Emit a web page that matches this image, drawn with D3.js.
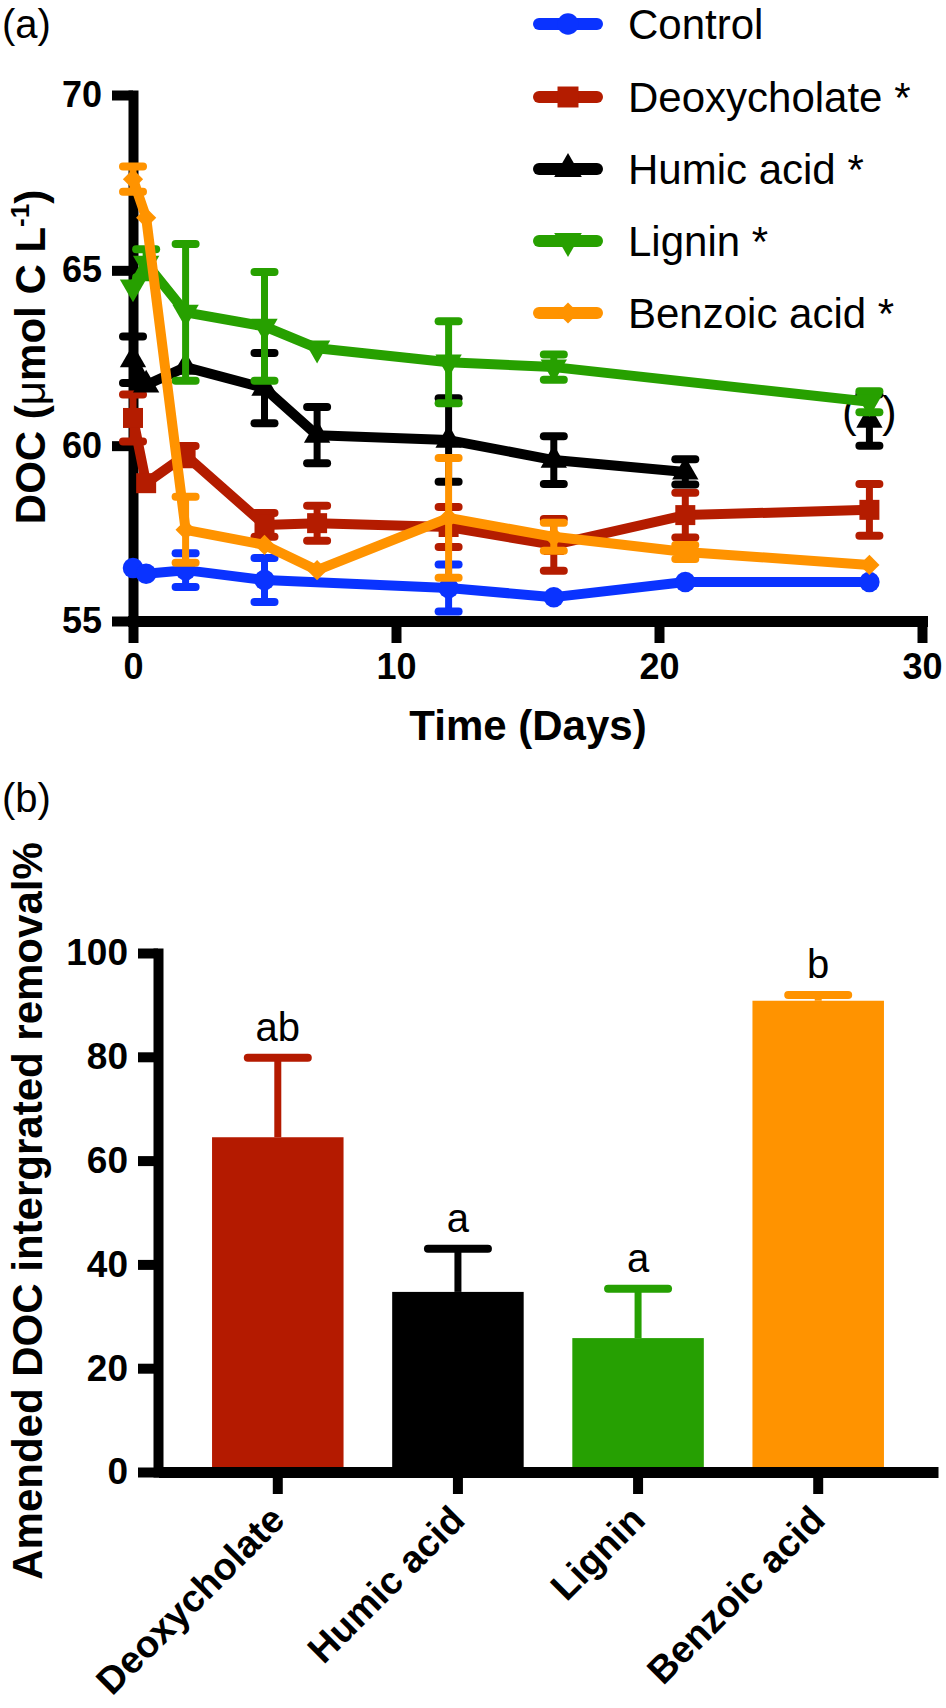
<!DOCTYPE html>
<html><head><meta charset="utf-8">
<script src="https://cdn.jsdelivr.net/npm/d3@7"></script>
<style>
body{margin:0;background:#fff}
text{font-family:"Liberation Sans",Arial,Helvetica,sans-serif}
</style>
</head><body>
<svg id="c" width="946" height="1708"></svg>
<script>
// ---------- Panel (a) data ----------
const days = [0, 0.5, 2, 5, 7, 12, 16, 21, 28];
const seriesNames = ["Control", "Deoxycholate", "Humic acid", "Lignin", "Benzoic acid"];
const legendLabels = ["Control", "Deoxycholate *", "Humic acid *", "Lignin *", "Benzoic acid *"];
const seriesColors = ["#0A33FF", "#B41C00", "#000000", "#27A000", "#FF9300"];
const seriesSymbols = ["circle", "square", "triangle", "triangleDown", "diamond"];

const controlMean = [56.51, 56.35, 56.45, 56.17, null, 55.94, 55.68, 56.11, 56.11];
const controlSE   = [0, 0, 0.48, 0.63, null, 0.67, 0, 0, 0];
const deoxyMean   = [60.79, 58.93, 59.73, 57.74, 57.79, 57.68, 57.17, 58.02, 58.17];
const deoxySE     = [0.67, 0, 0.26, 0.34, 0.5, 0.57, 0.74, 0.64, 0.74];
const humicMean   = [62.45, 61.73, 62.24, 61.64, 60.3, 60.16, 59.59, 59.25, 60.73];
const humicSE     = [0.66, 0, 0, 1.0, 0.8, 1.19, 0.68, 0.36, 0.73];
const humicConnected = [true, true, true, true, true, true, true, true, false];
const ligninMean  = [64.52, 65.2, 63.8, 63.4, 62.78, 62.38, 62.24, null, 61.25];
const ligninSE    = [0, 0.4, 1.95, 1.55, 0, 1.17, 0.36, null, 0.3];
const benzoicMean = [67.6, 66.5, 57.6, 57.17, 56.45, 57.94, 57.4, 56.97, 56.6];
const benzoicSE   = [0.36, 0, 0.94, 0, 0, 1.71, 0.4, 0.2, 0];

const xTicksA = [0, 10, 20, 30];
const yTicksA = [55, 60, 65, 70];

// ---------- Panel (b) data ----------
const categories = ["Deoxycholate", "Humic acid", "Lignin", "Benzoic acid"];
const removalMean = [64.5, 34.7, 25.8, 90.8];
const removalSE   = [15.3, 8.3, 9.5, 1.1];
const sigLetters  = ["ab", "a", "a", "b"];
const barColors   = ["#B41A00", "#000000", "#26A002", "#FF9300"];
const yTicksB = [0, 20, 40, 60, 80, 100];

// ---------- build ----------
const svg = d3.select("#c");
const FONT = '"Liberation Sans",Arial,Helvetica,sans-serif';

const means = [controlMean, deoxyMean, humicMean, ligninMean, benzoicMean];
const ses = [controlSE, deoxySE, humicSE, ligninSE, benzoicSE];

const xA = d3.scaleLinear().domain([0, 30]).range([133, 922]);
const yA = d3.scaleLinear().domain([55, 70]).range([621, 95]);

function symbolPath(kind, size) {
  const t = {circle: d3.symbolCircle, square: d3.symbolSquare, triangle: d3.symbolTriangle,
             triangleDown: d3.symbolTriangle, diamond: d3.symbolDiamond2}[kind];
  return d3.symbol().type(t).size(size)();
}
const symSize = {circle: 330, square: 400, triangle: 300, triangleDown: 300, diamond: 260};

// Panel label
svg.append("text").attr("x", 2).attr("y", 38).attr("font-size", 40).text("(a)");

// axes panel a
const gy = svg.append("g").attr("transform", `translate(${xA(0)},0)`)
  .call(d3.axisLeft(yA).tickValues(yTicksA).tickSize(21).tickSizeOuter(0).tickPadding(10));
gy.select(".domain").attr("stroke-width", 10).attr("stroke-linecap", "square");
gy.selectAll(".tick line").attr("stroke-width", 10);
gy.selectAll(".tick text").attr("font-size", 36).attr("font-weight", "bold").attr("font-family", FONT);

const gx = svg.append("g").attr("transform", `translate(0,${yA(55)})`)
  .call(d3.axisBottom(xA).tickValues(xTicksA).tickSize(22).tickSizeOuter(0).tickPadding(10));
gx.select(".domain").attr("stroke-width", 11).attr("stroke-linecap", "square");
gx.selectAll(".tick line").attr("stroke-width", 10);
gx.selectAll(".tick text").attr("font-size", 36).attr("font-weight", "bold").attr("font-family", FONT);

// axis titles panel a
svg.append("text").attr("transform", `translate(45,357) rotate(-90)`)
  .attr("text-anchor", "middle").attr("font-size", 42).attr("font-weight", "bold")
  .call(t => {
    t.append("tspan").text("DOC (");
    t.append("tspan").attr("font-weight", "normal").text("μ");
    t.append("tspan").text("mol C L");
    t.append("tspan").attr("font-size", 26).attr("dy", -16).text("-1");
    t.append("tspan").attr("dy", 16).text(")");
  });
svg.append("text").attr("x", 528).attr("y", 740).attr("text-anchor", "middle")
  .attr("font-size", 42).attr("font-weight", "bold").text("Time (Days)");

// series
const plot = svg.append("g");
const lineGen = d3.line().x(d => xA(d.day)).y(d => yA(d.v));
const seriesData = seriesNames.map((name, i) => ({
  name, color: seriesColors[i], sym: seriesSymbols[i],
  pts: days.map((day, j) => ({day, v: means[i][j], se: ses[i][j],
        connected: name === "Humic acid" ? humicConnected[j] : true}))
        .filter(p => p.v !== null)
}));

seriesData.forEach(s => {
  const g = plot.append("g");
  g.append("path").datum(s.pts.filter(p => p.connected))
    .attr("d", lineGen).attr("fill", "none").attr("stroke", s.color)
    .attr("stroke-width", 10).attr("stroke-linejoin", "round");
  const eb = s.pts.filter(p => p.se > 0);
  g.selectAll(".ev").data(eb).join("line")
    .attr("x1", d => xA(d.day)).attr("x2", d => xA(d.day))
    .attr("y1", d => yA(d.v - d.se)).attr("y2", d => yA(d.v + d.se))
    .attr("stroke", s.color).attr("stroke-width", 7);
  ["lo", "hi"].forEach(k => {
    g.selectAll(".ec" + k).data(eb).join("line")
      .attr("x1", d => xA(d.day) - 10).attr("x2", d => xA(d.day) + 10)
      .attr("y1", d => yA(k === "lo" ? d.v - d.se : d.v + d.se))
      .attr("y2", d => yA(k === "lo" ? d.v - d.se : d.v + d.se))
      .attr("stroke", s.color).attr("stroke-width", 8).attr("stroke-linecap", "round");
  });
  g.selectAll(".m").data(s.pts).join("path")
    .attr("d", symbolPath(s.sym, symSize[s.sym]))
    .attr("transform", d => `translate(${xA(d.day)},${yA(d.v)})` + (s.sym === "triangleDown" ? " rotate(180)" : ""))
    .attr("fill", s.color);
  s.pts.filter(p => !p.connected).forEach(p => {
    [["(", -20], [")", 20]].forEach(([ch, dx]) => {
      g.append("text").attr("x", xA(p.day) + dx).attr("y", yA(p.v) + 7)
        .attr("text-anchor", "middle").attr("font-size", 44).text(ch);
    });
  });
});

// legend
const legRows = [24, 97, 169, 241, 313];
const leg = svg.append("g");
legendLabels.forEach((lab, i) => {
  const y = legRows[i];
  leg.append("line").attr("x1", 539).attr("x2", 597).attr("y1", y).attr("y2", y)
    .attr("stroke", seriesColors[i]).attr("stroke-width", 12).attr("stroke-linecap", "round");
  leg.append("path").attr("d", symbolPath(seriesSymbols[i], symSize[seriesSymbols[i]] * 1.1))
    .attr("transform", `translate(568,${y})` + (seriesSymbols[i] === "triangleDown" ? " rotate(180)" : ""))
    .attr("fill", seriesColors[i]);
  leg.append("text").attr("x", 628).attr("y", y + 15).attr("font-size", 42).text(lab);
});

// ---------- Panel (b) ----------
svg.append("text").attr("x", 2).attr("y", 812).attr("font-size", 40).text("(b)");

const xB = d3.scaleBand().domain(categories).range([158, 938]).paddingInner(0.27).paddingOuter(0.30);
const yB = d3.scaleLinear().domain([0, 100]).range([1472, 953]);

svg.append("g").selectAll("rect").data(categories).join("rect")
  .attr("x", d => xB(d)).attr("width", xB.bandwidth())
  .attr("y", (d, i) => yB(removalMean[i])).attr("height", (d, i) => yB(0) - yB(removalMean[i]))
  .attr("fill", (d, i) => barColors[i]);

const ebB = svg.append("g");
categories.forEach((c, i) => {
  const cx = xB(c) + xB.bandwidth() / 2;
  const top = yB(removalMean[i] + removalSE[i]);
  ebB.append("line").attr("x1", cx).attr("x2", cx).attr("y1", yB(removalMean[i])).attr("y2", top)
    .attr("stroke", barColors[i]).attr("stroke-width", 7);
  ebB.append("line").attr("x1", cx - 30).attr("x2", cx + 30).attr("y1", top).attr("y2", top)
    .attr("stroke", barColors[i]).attr("stroke-width", 8).attr("stroke-linecap", "round");
  ebB.append("text").attr("x", cx).attr("y", top - 17).attr("text-anchor", "middle")
    .attr("font-size", 40).text(sigLetters[i]);
});

const gyB = svg.append("g").attr("transform", `translate(158,0)`)
  .call(d3.axisLeft(yB).tickValues(yTicksB).tickSize(20).tickSizeOuter(0).tickPadding(10));
gyB.select(".domain").attr("stroke-width", 10).attr("stroke-linecap", "square");
gyB.selectAll(".tick line").attr("stroke-width", 10);
gyB.selectAll(".tick text").attr("font-size", 37).attr("font-weight", "bold").attr("font-family", FONT);

const gxB = svg.append("g").attr("transform", `translate(0,${yB(0)})`)
  .call(d3.axisBottom(xB).tickSize(22).tickSizeOuter(0));
gxB.select(".domain").attr("stroke-width", 11);
gxB.selectAll(".tick line").attr("stroke-width", 10);
gxB.selectAll(".tick text").attr("font-size", 38).attr("font-weight", "bold").attr("font-family", FONT)
  .attr("x", 0).attr("y", 0).attr("dy", 0)
  .attr("transform", "translate(9,50) rotate(-45)").attr("text-anchor", "end");

svg.append("text").attr("transform", `translate(42,1211) rotate(-90)`)
  .attr("text-anchor", "middle").attr("font-size", 42).attr("font-weight", "bold")
  .text("Amended DOC intergrated removal%");
</script>
</body></html>
